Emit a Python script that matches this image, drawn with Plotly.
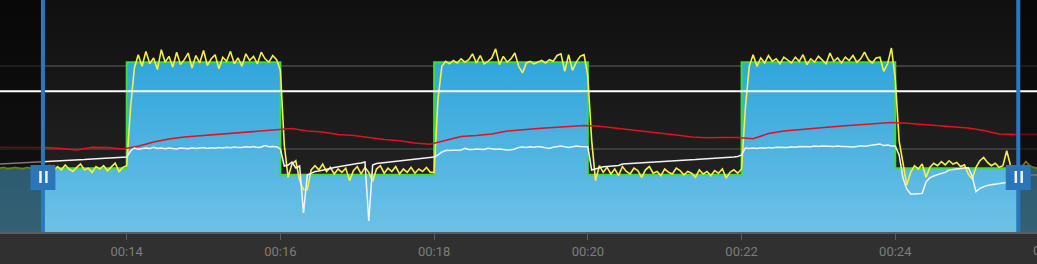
import plotly.graph_objects as go

# ---------------- data ----------------
start_min = 12.35          # first sample (minutes)
power_step_min = 0.05      # 3 s samples
hr_step_min = 0.2          # 12 s samples
x_start = 12.3515
x_end = 25.844

# target workout steps (start minute, watts)
target_start = [12.35, 14, 16, 18, 20, 22, 24]
target_watts = [77, 205, 69, 205, 69, 205, 77]
ftp_watts = 170

# selection handles (minutes)
sel_start = 12.91
sel_end = 25.60

tick_vals = [14, 16, 18, 20, 22, 24]
tick_text = ["00:14", "00:16", "00:18", "00:20", "00:22", "00:24"]
tick_next_val = 26
tick_next_text = "00:26"

power_warmup = [77, 78, 76, 77, 78, 77, 76, 78, 77, 76, 77,
                78, 76, 80, 74, 79, 75, 81, 76, 73, 78, 82, 75, 77, 72, 79, 76, 80, 74, 78, 83, 73, 78]
power_rise1 = [80, 150, 198]
power_int1 = [214, 200, 218, 203, 210, 196, 220, 205, 212, 199,
              217, 202, 208, 216, 198, 213, 204, 219, 201, 209,
              214, 197, 211, 206, 218, 203, 210, 200, 215, 207,
              212, 203, 217, 209, 205, 213, 208]
power_drop1 = [195, 105]
power_rec1 = [66, 82, 86, 62, 51, 51, 75, 80, 75, 82,
              73, 78, 70, 76, 72, 77, 62, 74, 79, 70,
              78, 72, 61, 76, 80, 71, 77, 73, 79, 70,
              76, 72, 78, 71, 76, 73, 78, 72]
power_rise2 = [72, 160, 200]
power_int2 = [206, 203, 207, 204, 209, 205, 208, 215, 204, 213,
              203, 206, 210, 221, 202, 212, 205, 209, 216, 200,
              192, 204, 206, 203, 205, 207, 204, 208, 206, 213,
              215, 194, 214, 195, 205, 212, 214]
power_drop2 = [188, 110, 62]
power_rec2 = [80, 72, 78, 70, 76, 68, 79, 73, 70, 77,
              74, 66, 75, 79, 71, 73, 68, 76, 72, 70,
              77, 74, 69, 73, 71, 66, 75, 70, 73, 68,
              74, 71, 76, 65, 72, 75, 71]
power_rise3 = [76, 150, 200]
power_int3 = [214, 200, 210, 204, 213, 206, 209, 203, 211, 207,
              204, 211, 206, 214, 202, 209, 205, 212, 208, 203,
              216, 206, 210, 204, 211, 207, 213, 205, 209, 217,
              208, 204, 210, 211, 194, 203, 222]
power_cool = [185, 110, 83, 57, 72, 80, 76, 82, 66, 78,
              83, 80, 85, 81, 86, 82, 84, 79, 81, 70,
              64, 78, 86, 90, 84, 80, 83, 78, 80, 98,
              80, 78, 76, 79, 85, 80, 78, 77]

cad_warmup = [54, 54.1, 54.2, 54.3, 54.4, 54.5, 54.5, 54.6, 54.7, 54.8, 54.9,
              55, 55.1, 55.2, 55.4, 55.5, 55.6, 55.7, 55.8, 55.8, 55.7, 55.9,
              56.2, 56.4, 56.5, 56.7, 56.9, 57, 57, 56.9, 57, 57.1, 57.2]
cad_rise1 = [57.5, 60.5, 62]
cad_int1 = [61.4, 61.8, 62, 61.7, 62.3, 61.8, 62, 61.6, 62, 61.7,
            61.5, 62, 61.8, 61.6, 62.1, 61.7, 62, 62.2, 61.8, 62.1,
            61.9, 62.3, 62, 62.4, 62.1, 62.5, 62.3, 62.2, 62.6, 62.4,
            62.7, 62.3, 62.5, 63.2, 62.6, 62.8, 62.6]
cad_drop1 = [61.5, 53]
cad_rec1 = [53.5, 55, 52, 53, 29.5, 48.5, 49.5, 50.2, 50.5, 50.8,
            51.3, 51.7, 52.2, 52.6, 53, 53.3, 53.6, 54, 54.3, 54.5,
            55, 25.5, 53.5, 54.2, 54.4, 54.6, 54.8, 55, 55.3, 55.6,
            55.8, 55.9, 56.1, 56.2, 56.4, 56.6, 56.8, 57.1]
cad_rise2 = [57.5, 58.5, 60]
cad_int2 = [60.7, 60.8, 60.6, 60.9, 61, 61.8, 61.3, 61.2, 61.5, 61.4,
            61.3, 61.9, 61.6, 61.4, 61.5, 61.2, 61, 61.1, 61.5, 62.3,
            62.5, 62.2, 62.6, 62.4, 62.7, 62.5, 62.3, 61.8, 62.4, 62.8,
            63, 62.6, 62.3, 62.6, 63, 62.8, 62.7]
cad_drop2 = [62.6, 51, 51.6]
cad_rec2 = [52.2, 52.6, 52.8, 53, 53.1, 53.3, 54, 54.1, 54.2, 54.4,
            54.6, 54.7, 54.8, 54.8, 54.9, 55, 55, 55.1, 55.3, 55.4,
            55.6, 55.7, 55.8, 56, 56.1, 56.2, 56.4, 56.5, 56.6, 56.7,
            56.9, 57, 57.1, 57.2, 57.3, 57.5, 57.8]
cad_rise3 = [58.5, 62, 61.8]
cad_int3 = [62, 61.8, 62.1, 61.9, 62.2, 62, 62.4, 62.3, 62.5, 62.3,
            62.6, 62.4, 62.7, 62.6, 62.8, 62.6, 63, 62.8, 63, 62.9,
            63.1, 62.8, 63, 62.7, 62.8, 62.6, 62.5, 62.8, 63.1, 62.9,
            63.2, 63.4, 63.8, 64, 63.2, 63.5, 63]
cad_cool = [63, 58.5, 47, 41.5, 39, 39, 39.1, 39.3, 45, 47.1,
            48, 48.8, 49.3, 49.8, 51, 51.3, 51.6, 51.8, 52, 52.1,
            48, 40.2, 41.8, 42.6, 43.3, 43.6, 44, 44.3, 44.5, 44.7,
            44.8, 45, 45.2, 45.5, 46, 48.5, 48.5, 48.5]

heart_rate = [104.7, 104.5, 105, 104.5, 103.5, 102, 104.7, 104.5, 103, 105.7,
              110, 113, 115, 116.3, 117.5, 118.8, 120, 121, 122.5, 123.5,
              121, 120, 117.5, 116.5, 114.5, 112.5, 111.3, 109, 107.7, 111.5,
              115.5, 116.5, 118, 121, 122.5, 123.5, 124.5, 125.3, 126.5, 125.7,
              124, 122.5, 120.8, 119.2, 117, 115, 114.3, 114.5, 114.5, 113.2,
              118.5, 121, 122.5, 124, 125, 126.2, 127.5, 128.7, 129.5, 128.7,
              127.5, 126.2, 125.2, 124, 121.5, 118, 117.5, 117.7, 117.7]

# ---------------- assemble ----------------
power = (power_warmup + power_rise1 + power_int1 + power_drop1 + power_rec1 + power_rise2
         + power_int2 + power_drop2 + power_rec2 + power_rise3 + power_int3 + power_cool)
cadence = (cad_warmup + cad_rise1 + cad_int1 + cad_drop1 + cad_rec1 + cad_rise2
           + cad_int2 + cad_drop2 + cad_rec2 + cad_rise3 + cad_int3 + cad_cool)
t_power = [start_min + i * power_step_min for i in range(len(power))]
t_cad = [start_min + i * power_step_min for i in range(len(cadence))]
t_hr = [start_min + i * hr_step_min for i in range(len(heart_rate))]

step_x = target_start + [x_end]
step_y = target_watts + [target_watts[-1]]

fig = go.Figure()

fig.add_trace(go.Scatter(
    x=step_x, y=step_y, mode="lines",
    line=dict(shape="hv", color="#3ddc3d", width=2),
    fill="tozeroy",
    fillgradient=dict(type="vertical", colorscale=[[0, "#6dc1e6"], [1, "#30a6dc"]], start=0, stop=205),
    hoverinfo="skip", showlegend=False))

fig.add_trace(go.Scatter(x=t_hr, y=heart_rate, mode="lines", yaxis="y2",
                         line=dict(color="#e3101f", width=1.6), showlegend=False))
fig.add_trace(go.Scatter(x=t_cad, y=cadence, mode="lines", yaxis="y3",
                         line=dict(color="#f4f4f4", width=1.5), showlegend=False))
fig.add_trace(go.Scatter(x=t_power, y=power, mode="lines",
                         line=dict(color="#f5f043", width=1.6), showlegend=False))

shapes = []
# background vertical gradient (styling)
n_bands = 29
top_rgb = (16, 16, 16)
bot_rgb = (38, 38, 38)
for k in range(n_bands):
    f = k / (n_bands - 1)
    c = tuple(int(round(top_rgb[j] + (bot_rgb[j] - top_rgb[j]) * f)) for j in range(3))
    shapes.append(dict(type="rect", xref="paper", yref="paper", x0=0, x1=1,
                       y0=1 - (k + 1) / n_bands, y1=1 - k / n_bands,
                       fillcolor="rgb(%d,%d,%d)" % c, line=dict(width=0), layer="below"))

# dimmed regions outside the selection
for a, b in [(start_min - 1, sel_start), (sel_end, x_end + 1)]:
    shapes.append(dict(type="rect", xref="x", yref="paper", x0=a, x1=b, y0=0, y1=1,
                       fillcolor="rgba(0,0,0,0.5)", line=dict(width=0), layer="above"))

# FTP line
shapes.append(dict(type="line", xref="paper", yref="y", x0=0, x1=1, y0=ftp_watts, y1=ftp_watts,
                   line=dict(color="#ffffff", width=2), layer="above"))

# selection handles
handle_y = (232 - 177.5) / 232
for s in [sel_start, sel_end]:
    shapes.append(dict(type="line", xref="x", yref="paper", x0=s, x1=s, y0=0, y1=1,
                       line=dict(color="#2a79be", width=4), layer="above"))
    shapes.append(dict(type="rect", xref="x", yref="paper", xsizemode="pixel", ysizemode="pixel",
                       xanchor=s, yanchor=handle_y, x0=-12.5, x1=12.5, y0=-12.5, y1=12.5,
                       fillcolor="#2a76b9", line=dict(width=0), layer="above"))
    for bx0, bx1 in [(-3.7, -1.2), (2.2, 4.7)]:
        shapes.append(dict(type="rect", xref="x", yref="paper", xsizemode="pixel", ysizemode="pixel",
                           xanchor=s, yanchor=handle_y, x0=bx0, x1=bx1, y0=-5.5, y1=6.5,
                           fillcolor="#f2f6fa", line=dict(width=0), layer="above"))

# next tick label, partly beyond the right edge (placed in paper units)
next_label_x = (tick_next_val - x_start) / (x_end - x_start)

fig.update_layout(
    width=1037, height=264,
    margin=dict(l=0, r=0, t=0, b=32, pad=0),
    paper_bgcolor="#303030", plot_bgcolor="#1a1a1a",
    showlegend=False, template="none",
    font=dict(family="Roboto, Arial, sans-serif", color="#7d7d7d", size=13),
    shapes=shapes,
    xaxis=dict(range=[x_start, x_end], tickvals=tick_vals, ticktext=tick_text,
               showgrid=False, zeroline=False, showline=True, linecolor="#5c5c5c", linewidth=2,
               ticks="outside", ticklen=6, tickwidth=1, tickcolor="#5c5c5c",
               tickfont=dict(size=13, color="#7d7d7d"), fixedrange=True),
    yaxis=dict(range=[0, 280], tickvals=[100, 200], showticklabels=False, showgrid=True,
               gridcolor="#3c3c3c", gridwidth=1.5, zeroline=False, showline=False, ticks=""),
    yaxis2=dict(range=[20, 252], overlaying="y", visible=False),
    yaxis3=dict(range=[20, 136], overlaying="y", visible=False),
    annotations=[dict(x=next_label_x, xref="paper", y=-0.0776, yref="paper", text=tick_next_text,
                      showarrow=False, xanchor="center", yanchor="middle",
                      font=dict(size=13, color="#7d7d7d"))],
)

fig.write_html("out.html")
